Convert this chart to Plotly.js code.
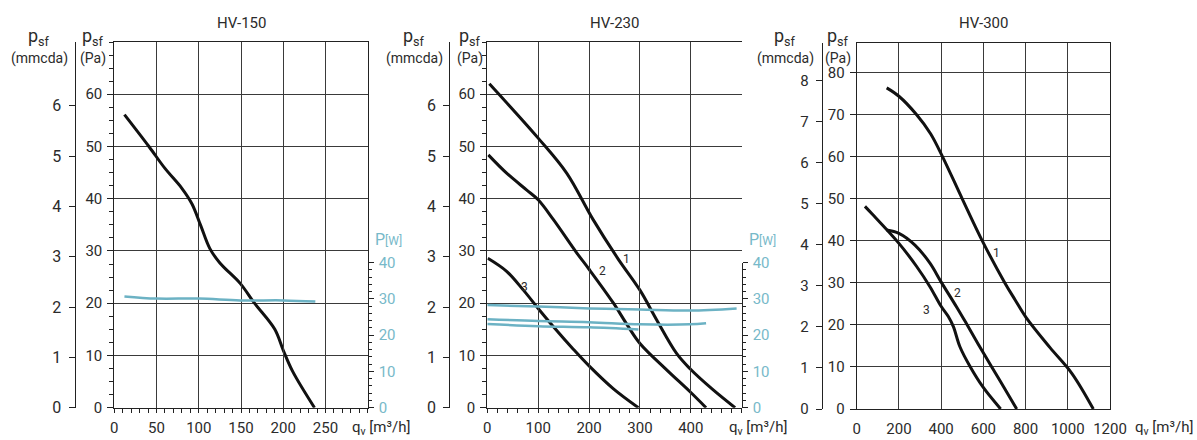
<!DOCTYPE html>
<html><head><meta charset="utf-8">
<script src="https://cdn.plot.ly/plotly-3.0.1.min.js"></script>
<style>html,body{margin:0;padding:0;background:#fff}</style>
</head><body>
<div id="chart" style="width:1197px;height:440px"></div>
<script>
// ---------- data ----------
const titles = ['HV-150', 'HV-230', 'HV-300'];

// HV-150
const hv150_q = [12, 41, 60, 80, 92, 102, 113, 125, 149, 166, 190, 200, 211, 237];
const hv150_p = [56.1, 50.0, 45.8, 42.0, 39.0, 35.0, 30.5, 27.7, 23.8, 20.0, 15.0, 11.0, 7.0, 0];
const hv150_wq = [12, 50, 100, 149, 200, 238];
const hv150_w = [30.7, 30.1, 30.1, 29.6, 29.6, 29.3];

// HV-230
const hv230_q1 = [4, 100, 156, 208, 257, 300, 333, 372, 398, 444, 487];
const hv230_p1 = [62, 51.6, 44.9, 36, 28.5, 22.5, 16.8, 10.4, 7.5, 3.4, 0];
const hv230_q2 = [2, 38, 77, 100, 130, 176, 200, 248, 274, 300, 353, 398, 430];
const hv230_p2 = [48.4, 44.9, 41.7, 39.8, 36, 29.6, 26.5, 20, 16, 12.3, 7.2, 3.1, 0];
const hv230_q3 = [1, 38, 71, 100, 130, 169, 200, 248, 297];
const hv230_p3 = [28.6, 26.1, 22.5, 19.0, 15.5, 11.2, 8.0, 3.6, 0];
const hv230_wq1 = [0, 100, 200, 300, 398, 490];
const hv230_w1 = [28.3, 27.9, 27.4, 27.1, 26.8, 27.4];
const hv230_wq2 = [0, 100, 200, 300, 398, 430];
const hv230_w2 = [24.4, 23.9, 23.6, 23.0, 23.0, 23.3];
const hv230_wq3 = [0, 100, 200, 297];
const hv230_w3 = [23.1, 22.5, 22.2, 21.6];
const hv230_labels = ['1', '2', '3'];
const hv230_label_q = [274, 227, 74];
const hv230_label_p = [28.4, 26.1, 23.2];

// HV-300
const hv300_q1 = [142, 200, 284, 350, 407, 500, 595, 702, 750, 802, 916, 1019, 1121];
const hv300_p1 = [76.4, 74.4, 70, 65.5, 60, 50, 40, 30, 26, 21.8, 14.6, 8.5, 0];
const hv300_q2 = [142, 200, 276, 347, 399, 474, 521, 597, 679, 758];
const hv300_p2 = [42.6, 41.8, 39, 34.7, 30.3, 24.2, 20.2, 13.6, 6.7, 0];
const hv300_q3 = [39, 71, 200, 284, 347, 399, 434, 458, 489, 537, 597, 682];
const hv300_p3 = [48.2, 46.5, 39.4, 33.9, 29.1, 24.5, 22, 19.6, 14.8, 10.1, 5.3, 0];
const hv300_labels = ['1', '2', '3'];
const hv300_label_q = [663, 478, 332];
const hv300_label_p = [37.1, 27.5, 23.6];

// tick values
const pa_ticks_a = [0, 10, 20, 30, 40, 50, 60];
const pa_ticks_b = [0, 10, 20, 30, 40, 50, 60, 70, 80];
const mm_ticks_a = [0, 1, 2, 3, 4, 5, 6];
const mm_ticks_b = [0, 1, 2, 3, 4, 5, 6, 7, 8];
const w_ticks = [0, 10, 20, 30, 40];
const q_ticks_150 = [0, 50, 100, 150, 200, 250];
const q_ticks_230 = [0, 100, 200, 300, 400];
const q_ticks_300 = [0, 200, 400, 600, 800, 1000, 1200];

// ---------- style ----------
const FONT = 'Roboto, "Open Sans", sans-serif';
const TXT = '#2b2b2b';
const TEAL = '#77b9c9';
const TEAL_LINE = '#6cb2c4';
const GRID = '#3a3a3a';
const W = 1197, H = 440;
const px = v => v / W;
const py = v => (H - v) / H;

function curve(q, p, xa, ya, color, width) {
  return {x: q, y: p, xaxis: xa, yaxis: ya, type: 'scatter', mode: 'lines',
    line: {color: color, width: width, shape: 'spline', smoothing: 1},
    hoverinfo: 'skip', showlegend: false};
}
// empty carrier so the mmcda scale axis gets drawn
function scaleOnly(xa, ya) {
  return {x: [], y: [], xaxis: xa, yaxis: ya, type: 'scatter', mode: 'lines', hoverinfo: 'skip', showlegend: false};
}

const data = [
  scaleOnly('x', 'y2'), scaleOnly('x2', 'y5'), scaleOnly('x3', 'y8'),
  curve(hv150_q, hv150_p, 'x', 'y', '#111', 3),
  curve(hv150_wq, hv150_w, 'x', 'y3', TEAL_LINE, 2.5),
  curve(hv230_wq1, hv230_w1, 'x2', 'y6', TEAL_LINE, 2.5),
  curve(hv230_wq2, hv230_w2, 'x2', 'y6', TEAL_LINE, 2.5),
  curve(hv230_wq3, hv230_w3, 'x2', 'y6', TEAL_LINE, 2.5),
  curve(hv230_q1, hv230_p1, 'x2', 'y4', '#111', 3),
  curve(hv230_q2, hv230_p2, 'x2', 'y4', '#111', 3),
  curve(hv230_q3, hv230_p3, 'x2', 'y4', '#111', 3),
  curve(hv300_q1, hv300_p1, 'x3', 'y7', '#111', 3),
  curve(hv300_q2, hv300_p2, 'x3', 'y7', '#111', 3),
  curve(hv300_q3, hv300_p3, 'x3', 'y7', '#111', 3),
];

function xAxis(dom, range, ticks, anchor, minorDt) {
  const a = {domain: dom, range: range, anchor: anchor, tickmode: 'array', tickvals: ticks,
    showgrid: true, gridcolor: GRID, gridwidth: 1, zeroline: false,
    showline: true, linecolor: '#222', linewidth: 1, mirror: true,
    ticks: minorDt ? 'outside' : '', ticklen: 0, tickcolor: '#222',
    ticklabelstandoff: 6,
    tickfont: {family: FONT, size: 15, color: TXT}, fixedrange: true};
  if (minorDt) a.minor = {tick0: 0, dtick: minorDt, ticks: 'outside', ticklen: 4, tickcolor: '#222', showgrid: false};
  return a;
}
function paAxis(dom, range, ticks, anchor, mirror, minorDt) {
  const a = {domain: dom, range: range, anchor: anchor, tickmode: 'array', tickvals: ticks,
    showgrid: true, gridcolor: GRID, gridwidth: 1, zeroline: false,
    showline: true, linecolor: '#222', linewidth: 1, mirror: mirror,
    ticks: 'outside', ticklen: 6, tickcolor: '#222', ticklabelstandoff: 2,
    tickfont: {family: FONT, size: 15, color: TXT}, fixedrange: true};
  if (minorDt) a.minor = {tick0: 0, dtick: minorDt, ticks: 'outside', ticklen: 4, tickcolor: '#222', showgrid: false};
  return a;
}
function mmAxis(over, pos, range, ticks, size) {
  return {overlaying: over, anchor: 'free', position: pos, side: 'left', range: range,
    tickmode: 'array', tickvals: ticks, showgrid: false, zeroline: false,
    showline: true, linecolor: '#222', linewidth: 1,
    ticks: 'outside', ticklen: 6, tickcolor: '#222', ticklabelstandoff: 4,
    tickfont: {family: FONT, size: size, color: TXT}, fixedrange: true};
}
function wAxis(dom, anchor) {
  return {domain: dom, range: [0, 40], anchor: anchor, side: 'right', tickmode: 'array', tickvals: w_ticks,
    showgrid: false, zeroline: false, showline: true, linecolor: '#222', linewidth: 1,
    ticks: 'outside', ticklen: 5, tickcolor: '#222', ticklabelstandoff: 2,
    minor: {tick0: 0, dtick: 2, ticks: 'outside', ticklen: 3, tickcolor: '#222', showgrid: false},
    tickfont: {family: FONT, size: 15, color: TEAL}, fixedrange: true};
}

const yDomA = [py(407.7), py(42)];
const yDomB = [py(409), py(43.3)];
const wDom = [py(407.7), py(262.7)];

const layout = {
  width: W, height: H, margin: {l: 0, r: 0, t: 0, b: 0},
  paper_bgcolor: '#fff', plot_bgcolor: 'rgba(0,0,0,0)', showlegend: false,
  font: {family: FONT, color: TXT},
  xaxis: xAxis([px(114.3), px(367.7)], [0, 300], q_ticks_150, 'y', 10),
  yaxis: paAxis(yDomA, [0, 70], pa_ticks_a, 'x', true, 2.5),
  yaxis2: mmAxis('y', px(74.5), [0, 7.27], mm_ticks_a, 16),
  yaxis3: wAxis(wDom, 'x'),
  xaxis2: xAxis([px(487.3), px(741.7)], [0, 500], q_ticks_230, 'y4', 20),
  yaxis4: paAxis(yDomA, [0, 70], pa_ticks_a, 'x2', false, 2.5),
  yaxis5: mmAxis('y4', px(449.3), [0, 7.27], mm_ticks_a, 16),
  yaxis6: wAxis(wDom, 'x2'),
  xaxis3: xAxis([px(856.7), px(1110)], [0, 1200], q_ticks_300, 'y7', null),
  yaxis7: paAxis(yDomB, [0, 87], pa_ticks_b, 'x3', true, null),
  yaxis8: mmAxis('y7', px(821.7), [0, 8.9], mm_ticks_b, 15),
  annotations: []
};

const ann = layout.annotations;
const centers = [241, 614.5, 983.3];
titles.forEach((t, i) => ann.push({text: t, xref: 'paper', yref: 'paper', x: px(centers[i]), y: py(22.5),
  xanchor: 'center', yanchor: 'middle', showarrow: false, font: {family: FONT, size: 15, color: TXT}}));

// axis titles
function psf(xc, label) {
  ann.push({text: 'p<sub>sf</sub>', xref: 'paper', yref: 'paper', x: px(xc), y: py(37), xanchor: 'center', yanchor: 'middle',
    showarrow: false, font: {family: FONT, size: 18, color: TXT}});
  ann.push({text: label, xref: 'paper', yref: 'paper', x: px(xc), y: py(58), xanchor: 'center', yanchor: 'middle',
    showarrow: false, font: {family: FONT, size: 14, color: TXT}});
}
psf(39, '(mmcda)'); psf(93, '(Pa)');
psf(414, '(mmcda)'); psf(470, '(Pa)');
psf(785, '(mmcda)'); psf(838, '(Pa)');

// P[W]
[372.5, 746.5].forEach(x => ann.push({text: 'P<span style="font-size:12px">[W]</span>', xref: 'paper', yref: 'paper',
  x: px(x), y: py(239), xanchor: 'left', yanchor: 'middle', showarrow: false, font: {family: FONT, size: 16, color: TEAL}}));

// q_v labels
[350, 726.5, 1133].forEach(x => ann.push({text: 'q<sub>v</sub> [m³/h]', xref: 'paper', yref: 'paper',
  x: px(x), y: py(428), xanchor: 'left', yanchor: 'middle', showarrow: false, font: {family: FONT, size: 15, color: TXT}}));

// curve numbers
hv230_labels.forEach((t, i) => ann.push({text: t, xref: 'x2', yref: 'y4', x: hv230_label_q[i], y: hv230_label_p[i],
  showarrow: false, font: {family: FONT, size: 12, color: TXT}}));
hv300_labels.forEach((t, i) => ann.push({text: t, xref: 'x3', yref: 'y7', x: hv300_label_q[i], y: hv300_label_p[i],
  showarrow: false, font: {family: FONT, size: 12, color: TXT}}));

Plotly.newPlot('chart', data, layout, {staticPlot: true, displayModeBar: false});
</script>
</body></html>
